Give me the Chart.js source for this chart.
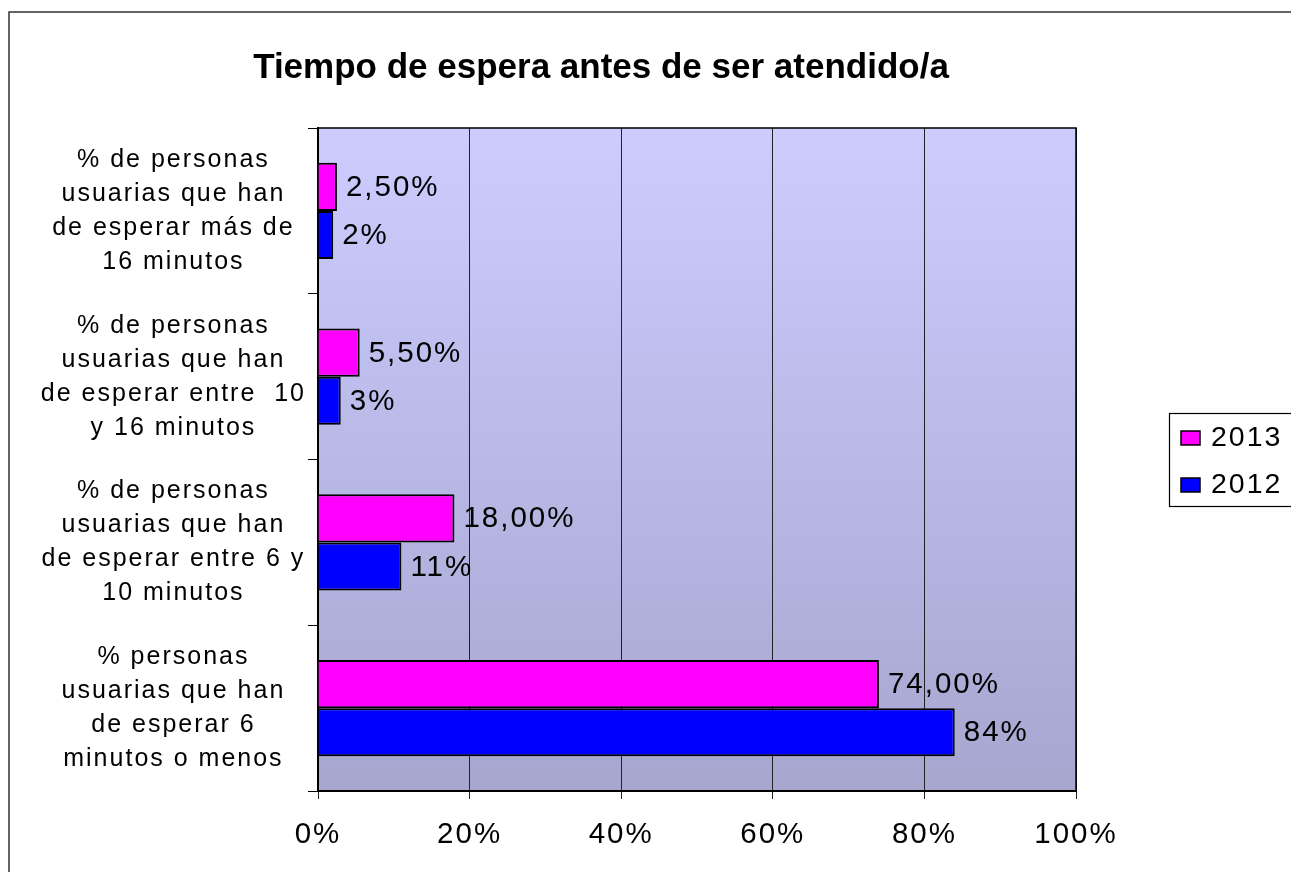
<!DOCTYPE html>
<html lang="es">
<head>
<meta charset="UTF-8">
<title>Tiempo de espera antes de ser atendido/a</title>
<style>
  html, body { margin: 0; padding: 0; background: #fff; }
  #wrap { width: 1291px; height: 872px; }
</style>
</head>
<body>
<div id="wrap"><canvas id="chart"></canvas></div>
<script src="https://cdn.jsdelivr.net/npm/chart.js"></script>
<script>
const chartTitle = 'Tiempo de espera antes de ser atendido/a';
const categories = [
  ['% de personas', 'usuarias que han', 'de esperar más de', '16 minutos'],
  ['% de personas', 'usuarias que han', 'de esperar entre  10', 'y 16 minutos'],
  ['% de personas', 'usuarias que han', 'de esperar entre 6 y', '10 minutos'],
  ['% personas', 'usuarias que han', 'de esperar 6', 'minutos o menos']
];
const seriesNames = ['2013', '2012'];
const values2013 = [2.5, 5.5, 18, 74];
const values2012 = [2, 3, 11, 84];
const xTicks = [0, 20, 40, 60, 80, 100];

const FONT = 'Arial, "Liberation Sans", sans-serif';

// excel-ish wide letter spacing
const spacing = {
  id: 'spacing',
  beforeLayout(chart) { chart.ctx.letterSpacing = '2px'; },
  beforeDraw(chart) { chart.ctx.letterSpacing = '2px'; }
};

const frame = {
  id: 'frame',
  beforeDraw(chart) {
    const { ctx, chartArea: a } = chart;
    ctx.save();
    ctx.fillStyle = '#fff';
    ctx.fillRect(0, 0, chart.width, chart.height);
    ctx.strokeStyle = '#333';
    ctx.lineWidth = 1.5;
    ctx.strokeRect(9, 12, chart.width + 20, chart.height + 20);
    const g = ctx.createLinearGradient(0, a.top, 0, a.bottom);
    g.addColorStop(0, '#ccccff');
    g.addColorStop(1, '#a6a6cf');
    ctx.fillStyle = g;
    ctx.fillRect(a.left, a.top, a.right - a.left, a.bottom - a.top);
    ctx.restore();
  },
  beforeDatasetsDraw(chart) {
    const { ctx, chartArea: a } = chart;
    ctx.save();
    ctx.strokeStyle = '#000';
    ctx.lineWidth = 1.5;
    ctx.strokeRect(a.left, a.top, a.right - a.left, a.bottom - a.top);
    ctx.restore();
  }
};

const valueLabels = {
  id: 'valueLabels',
  afterDatasetsDraw(chart) {
    const ctx = chart.ctx;
    ctx.save();
    ctx.font = '29.5px ' + FONT;
    ctx.fillStyle = '#000';
    ctx.textAlign = 'left';
    ctx.textBaseline = 'middle';
    chart.data.datasets.forEach((ds, i) => {
      chart.getDatasetMeta(i).data.forEach((bar, j) => {
        const txt = ds.data[j].toFixed(ds.decimals).replace('.', ',') + '%';
        ctx.fillText(txt, bar.x + 9, bar.y + 1);
      });
    });
    ctx.restore();
  }
};

const titleAndLegend = {
  id: 'titleAndLegend',
  afterDraw(chart) {
    const ctx = chart.ctx;
    ctx.save();
    ctx.letterSpacing = '0px';
    ctx.fillStyle = '#000';
    ctx.font = 'bold 35px ' + FONT;
    ctx.textAlign = 'center';
    ctx.textBaseline = 'middle';
    ctx.fillText(chartTitle, 601, 68);

    // legend box
    ctx.letterSpacing = '2px';
    ctx.strokeStyle = '#000';
    ctx.lineWidth = 1.2;
    ctx.strokeRect(1169.5, 413.5, 140, 93);
    ctx.font = '28.5px ' + FONT;
    ctx.textAlign = 'left';
    chart.data.datasets.forEach((ds, i) => {
      const cy = 438 + i * 47;
      ctx.fillStyle = ds.backgroundColor;
      ctx.fillRect(1181, cy - 7, 19, 14);
      ctx.lineWidth = 1.5;
      ctx.strokeRect(1181, cy - 7, 19, 14);
      ctx.fillStyle = '#000';
      ctx.fillText(ds.label, 1211, cy);
    });
    ctx.restore();
  }
};

new Chart(document.getElementById('chart'), {
  type: 'bar',
  data: {
    labels: categories,
    datasets: [
      { label: seriesNames[0], data: values2013, decimals: 2, backgroundColor: '#ff00ff', borderColor: '#000', borderWidth: 2 },
      { label: seriesNames[1], data: values2012, decimals: 0, backgroundColor: '#0000ff', borderColor: '#000', borderWidth: 2 }
    ]
  },
  options: {
    indexAxis: 'y',
    responsive: true,
    maintainAspectRatio: false,
    animation: false,
    categoryPercentage: 0.58,
    barPercentage: 1,
    layout: { padding: { top: 128, right: 215, bottom: 0, left: 0 } },
    plugins: {
      legend: { display: false },
      title: { display: false },
      tooltip: { enabled: false }
    },
    scales: {
      x: {
        min: 0,
        max: 100,
        afterBuildTicks(s) { s.ticks = xTicks.map(v => ({ value: v })); },
        ticks: {
          callback: v => v + '%',
          color: '#000',
          font: { family: FONT, size: 29.5 },
          padding: 18,
          maxRotation: 0
        },
        grid: { color: '#222', lineWidth: 1, tickLength: 8 },
        border: { color: '#000', width: 2 },
        afterFit(s) { s.height = 81; }
      },
      y: {
        ticks: {
          color: '#000',
          font: { family: FONT, size: 25, lineHeight: 1.36 },
          crossAlign: 'center',
          padding: 2,
          autoSkip: false
        },
        grid: { drawOnChartArea: false, color: '#000', tickLength: 10, offset: true },
        border: { color: '#000', width: 2 },
        afterFit(s) { s.width = 318; }
      }
    }
  },
  plugins: [spacing, frame, valueLabels, titleAndLegend]
});
</script>
</body>
</html>
